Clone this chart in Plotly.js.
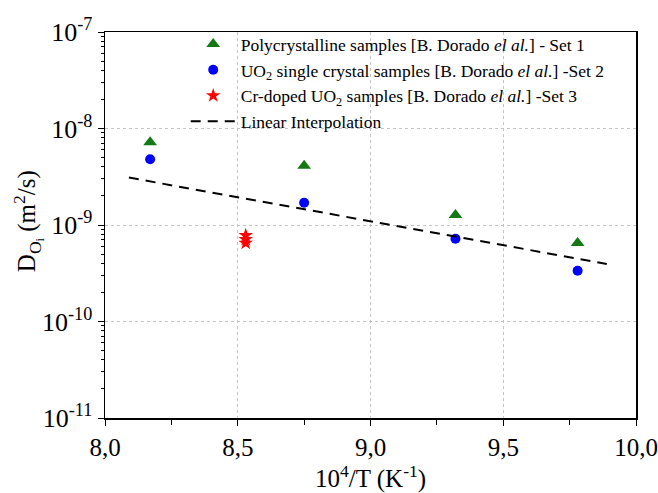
<!DOCTYPE html>
<html><head><meta charset="utf-8">
<script src="https://cdn.plot.ly/plotly-3.0.1.min.js"></script>
<style>body{margin:0;background:#fff}#c{width:658px;height:493px}</style>
</head><body><div id="c"></div>
<script>
const polyX = [8.17, 8.75, 9.32, 9.78];
const polyY = [7.2e-9, 4.1e-9, 1.27e-9, 6.5e-10];
const singleX = [8.17, 8.75, 9.32, 9.78];
const singleY = [4.8e-9, 1.7e-9, 7.2e-10, 3.35e-10];
const crX = [8.53, 8.53, 8.53];
const crY = [7.8e-10, 7.1e-10, 6.5e-10];
const fitX = [8.09, 9.89];
const fitY = [3.1e-9, 3.95e-10];
const yTickVals = [1e-11, 1e-10, 1e-9, 1e-8, 1e-7];
const yTickText = ['10<sup>-11</sup>', '10<sup>-10</sup>', '10<sup>-9</sup>', '10<sup>-8</sup>', '10<sup>-7</sup>'];
const xTickVals = [8.0, 8.5, 9.0, 9.5, 10.0];
const xTitle = '10<sup>4</sup>/T (K<sup>-1</sup>)';
const yTitle = 'D<sub>O<sub>i</sub></sub> (m<sup>2</sup>/s)';

const yMinor = [];
for (let e = -11; e < -7; e++) for (let m = 2; m <= 9; m++) yMinor.push(m * Math.pow(10, e));

const serif = 'Liberation Serif';
const traces = [
  {x: polyX, y: polyY, mode: 'markers', type: 'scatter',
   name: 'Polycrystalline samples [B. Dorado <i>el al.</i>] - Set 1',
   marker: {symbol: 'triangle-up', size: 12, color: '#147814'}},
  {x: singleX, y: singleY, mode: 'markers', type: 'scatter',
   name: 'UO<sub>2</sub> single crystal samples [B. Dorado <i>el al.</i>] -Set 2',
   marker: {symbol: 'circle', size: 10, color: '#0000ff'}},
  {x: crX, y: crY, mode: 'markers', type: 'scatter',
   name: 'Cr-doped UO<sub>2</sub> samples [B. Dorado <i>el al.</i>] -Set 3',
   marker: {symbol: 'star', size: 11, color: '#ff0000'}},
  {x: fitX, y: fitY, mode: 'lines', type: 'scatter',
   name: 'Linear Interpolation',
   line: {color: '#000', width: 2, dash: '10px,7px'}}
];
const layout = {
  width: 658, height: 493,
  margin: {l: 105, r: 22, t: 32, b: 75},
  paper_bgcolor: '#fff', plot_bgcolor: '#fff',
  separators: ', ',
  font: {family: serif, color: '#000', size: 24},
  showlegend: true,
  legend: {x: 0.152, y: 1.015, xanchor: 'left', yanchor: 'top', bgcolor: 'rgba(0,0,0,0)',
           font: {family: serif, size: 17.5, color: '#000'}, tracegroupgap: 0, itemwidth: 45},
  xaxis: {range: [8, 10], tickvals: xTickVals, tickformat: '.1f',
          ticks: 'outside', ticklen: 6, tickcolor: '#000', showline: true, linecolor: '#000', linewidth: 1.5, mirror: true,
          showgrid: true, gridcolor: '#c4c4c4', griddash: 'dot', gridwidth: 1, zeroline: false,
          minor: {dtick: 0.25, ticks: 'outside', ticklen: 5, tickcolor: '#000', showgrid: false},
          tickfont: {family: serif, size: 25},
          title: {text: xTitle, font: {family: serif, size: 25}, standoff: 0}},
  yaxis: {type: 'log', range: [-11, -7], tickvals: yTickVals, ticktext: yTickText,
          ticks: 'outside', ticklen: 6, tickcolor: '#000', showline: true, linecolor: '#000', linewidth: 1.5, mirror: true,
          showgrid: true, gridcolor: '#c4c4c4', griddash: 'dot', gridwidth: 1, zeroline: false,
          minor: {tickvals: yMinor, ticks: 'outside', ticklen: 3, tickcolor: '#000', showgrid: false},
          tickfont: {family: serif, size: 26}},
  annotations: [{text: yTitle, xref: 'paper', yref: 'paper', x: -0.145, y: 0.51,
                 xanchor: 'center', yanchor: 'middle', textangle: -90, showarrow: false,
                 font: {family: serif, size: 25, color: '#000'}}]
};
Plotly.newPlot('c', traces, layout, {displayModeBar: false, staticPlot: true});
</script></body></html>
